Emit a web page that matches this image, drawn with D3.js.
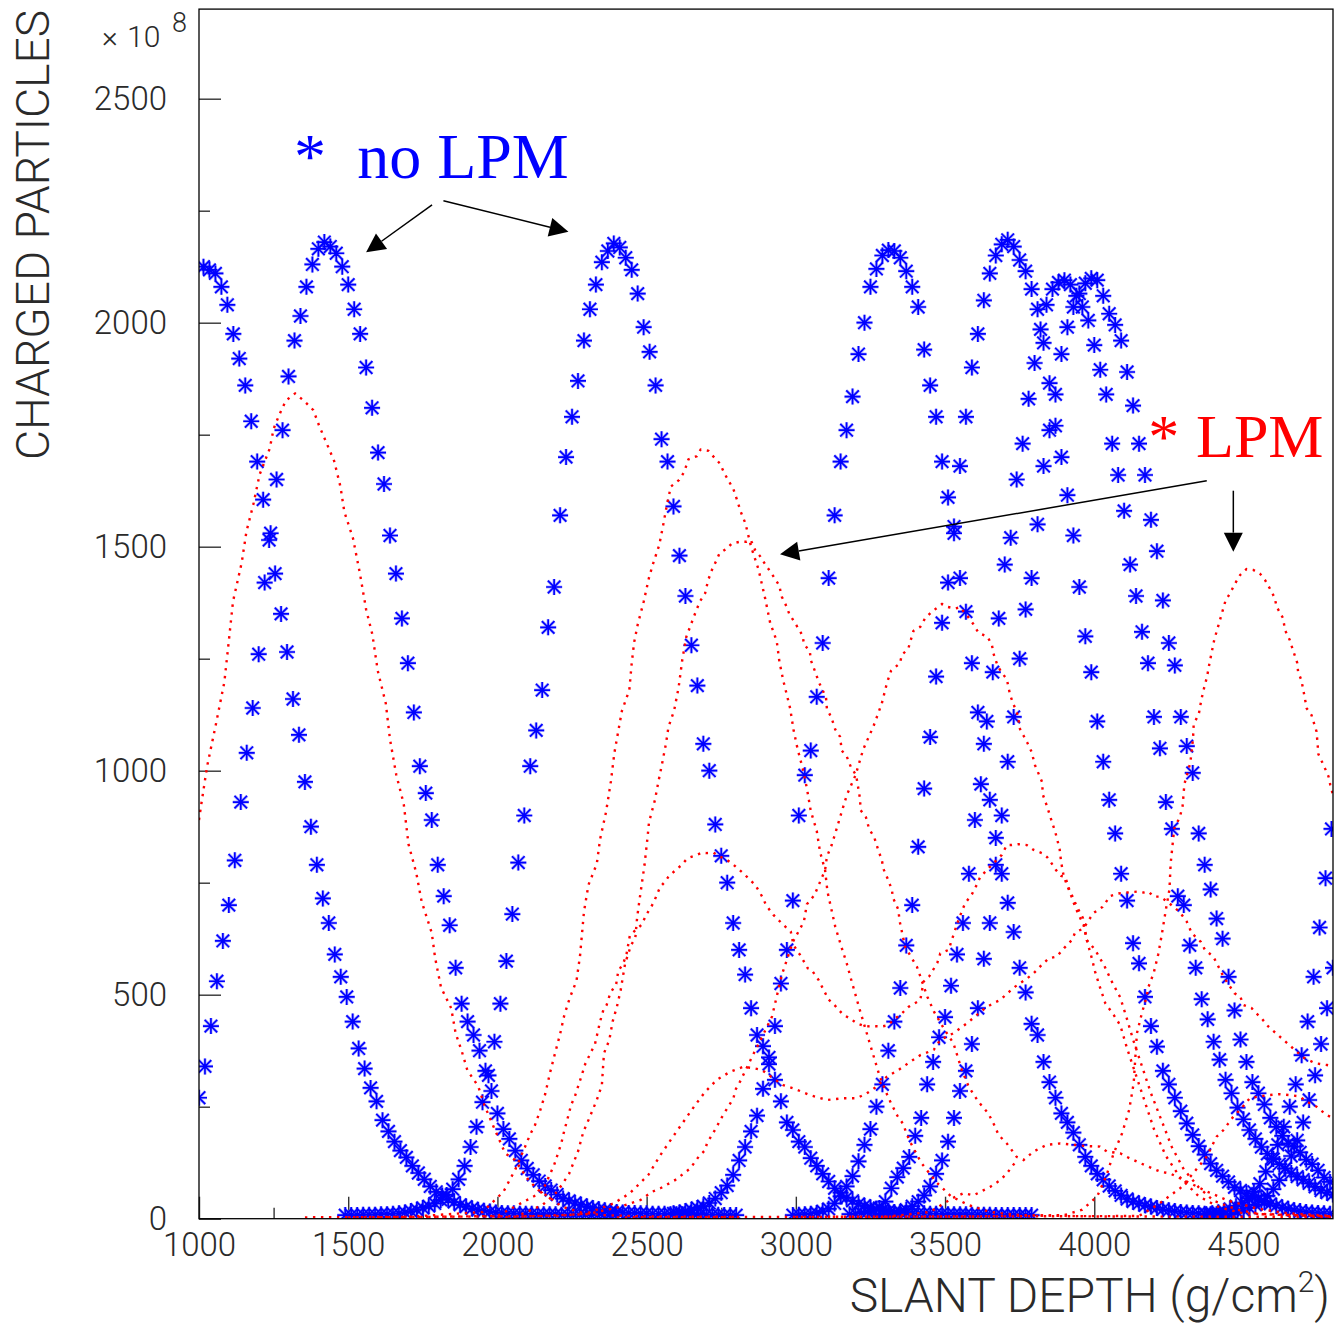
<!DOCTYPE html>
<html>
<head>
<meta charset="utf-8">
<script src="https://cdn.jsdelivr.net/npm/d3@7"></script>
<style>
  html, body { margin: 0; padding: 0; background: #fff; }
  svg { display: block; }
  .tick text { font-family: Roboto, "Open Sans", sans-serif; font-weight: 300; }
</style>
</head>
<body>
<svg id="chart" width="1337" height="1326"></svg>
<script>
// ---------------------------------------------------------------
// Longitudinal development of electromagnetic showers:
// number of charged particles (x 10^8) versus slant depth (g/cm^2),
// with and without the LPM effect.
// ---------------------------------------------------------------

// Profiles without LPM: sampled every STEP g/cm^2 from the given first depth.
const STEP = 20;
const noLpmStart = [1015, 1000, 1490, 2590, 2990, 3180, 3270, 4375, 4420];

const noLpm1 = [2125,2118,2110,2080,2040,1975,1920,1860,1780,1690,1605,1515,1440,1350,1265,1160,1080,975,875,790,
  715,660,590,540,495,440,380,335,292,262,220,195,172,152,137,118,102,88,72,60,
  52,43,37,31,27,23,20,18,16,14,13,12,12,11,11,11,10,10,10,10,9,9,9,9,9,8,8,8,8,8];

const noLpm2 = [270,340,430,530,620,700,800,930,1040,1140,1260,1420,1530,1650,1760,1880,1960,2015,2080,2130,
  2165,2180,2170,2155,2125,2085,2030,1975,1900,1810,1710,1640,1525,1440,1340,1240,1130,1010,950,890,
  790,720,655,560,480,440,410,375,330,285,235,200,178,152,130,112,98,84,73,64,
  54,45,40,35,31,27,24,21,19,17,15,14,13,13,12,12,11,11,11,10,10,10,10,9,9,9,9,9,8,8,8];

const noLpm3 = [8,8,8,9,9,9,10,10,11,12,14,17,20,24,28,34,42,53,66,88,
  118,160,205,260,320,395,480,575,680,795,900,1010,1090,1180,1320,1410,1570,1700,1790,1870,
  1960,2030,2085,2135,2160,2177,2168,2145,2118,2065,1990,1935,1860,1740,1690,1590,1480,1390,1280,1190,
  1060,1000,880,810,750,660,600,545,470,410,385,345,310,262,215,198,172,160,135,118,
  100,83,68,58,47,40,33,29,25,22,19,17,15,14,13,12,12,12,11,11,11,10,10,10,10,9,9,9,9,8,8,8,8,8,8,8];

const noLpm4 = [12,14,17,20,24,28,35,45,58,74,98,130,160,195,230,290,360,430,525,600,
  710,900,990,1045,1165,1285,1430,1570,1690,1760,1835,1930,2000,2080,2120,2150,2162,2160,2145,2115,
  2080,2035,1940,1860,1790,1690,1610,1545,1430,1355,1240,1130,1060,935,850,770,705,640,560,505,
  435,410,350,305,270,235,215,192,165,138,118,100,87,73,62,52,44,38,34,30,
  27,24,21,19,17,15,14,13,12,11,10,10];

const noLpm5 = [8,9,10,11,13,17,22,34,50,72,95,128,165,200,250,300,375,440,515,610,
  700,830,960,1075,1210,1330,1420,1530,1680,1790,1900,1975,2050,2110,2150,2175,2185,2170,2140,2115,
  2075,2030,1955,1865,1770,1700,1615,1525,1410,1300,1220,1110,1020,935,860,770,710,615,570,495,
  430,384,330,300,270,240,213,187,162,143,123,108,95,82,70,63,56,50,44,38,
  33,29,25,22,19,17,15,14,13,12,11];

const noLpm6 = [10,11,13,15,18,24,38,68,93,113,138,185,225,300,350,405,450,520,590,660,
  770,890,970,1110,1220,1340,1460,1520,1650,1730,1830,1910,1985,2040,2075,2090,2095,2085,2060,2035,
  2005,1950,1895,1840,1730,1660,1580,1460,1390,1310,1240,1120,1050,930,870,720,700,610,560,490,
  445,395,355,310,280,248,222,198,178,160,145,133,122,112,102,94,87,79,71,63,58,54];

const noLpm7 = [8,9,10,12,15,20,28,38,52,72,100,130,172,225,285,330,390,470,580,660,
  790,900,1020,1120,1250,1360,1430,1550,1680,1760,1840,1930,1990,2035,2065,2088,2099,2095,2060,2020,
  1995,1960,1890,1815,1730,1660,1560,1490,1380,1285,1235,1120,1055,995,860,790,735,670,625,540,
  465,400,350,305,280,255,225,205,185,168,161,148,132,122,108,92,82];

const noLpm8 = [10,12,14,17,22,28,36,46,60,78,105,135,165,205,250,300,365,440,540,650,760,870];

const noLpm9 = [8,10,12,15,19,24,31,40,51,66,86,112,140,175,215,265,320,390,470,560];

const noLpmValues = [noLpm1, noLpm2, noLpm3, noLpm4, noLpm5, noLpm6, noLpm7, noLpm8, noLpm9];

// Profiles with LPM: [slant depth, charged particles] read along each dotted profile.
const lpm1 = [[1000,890],[1007,922],[1027,1009],[1058,1108],[1085,1198],[1100,1290],[1114,1378],[1143,1464],[1159,1534],[1182,1594],
  [1203,1661],[1237,1719],[1250,1763],[1268,1793],[1291,1826],[1322,1842],[1353,1825],[1383,1805],[1402,1771],[1427,1732],
  [1453,1691],[1474,1634],[1487,1578],[1516,1519],[1539,1441],[1560,1360],[1581,1304],[1599,1223],[1626,1150],[1640,1070],
  [1661,991],[1686,926],[1702,836],[1728,772],[1746,708],[1780,638],[1791,583],[1811,516],[1845,470],[1860,414],
  [1880,375],[1899,332],[1936,295],[1956,254],[1986,207],[2026,146],[2059,131],[2104,86],[2137,64],[2171,49],
  [2216,27],[2280,14],[2350,8],[2500,5],[2800,4]];

const lpm2 = [[1355,3],[1700,4],[1950,15],[2020,60],[2060,110],[2093,161],[2109,187],[2126,209],[2143,241],[2160,278],
  [2176,325],[2193,369],[2210,412],[2224,454],[2242,492],[2265,531],[2277,588],[2290,685],[2305,745],[2333,792],
  [2344,847],[2364,908],[2380,975],[2392,1040],[2417,1133],[2442,1180],[2450,1240],[2458,1286],[2470,1326],[2490,1377],
  [2508,1431],[2521,1461],[2542,1503],[2554,1543],[2567,1590],[2581,1634],[2609,1649],[2626,1667],[2640,1695],[2668,1702],
  [2681,1717],[2707,1714],[2724,1701],[2745,1686],[2762,1662],[2791,1628],[2802,1606],[2816,1577],[2831,1552],[2850,1500],
  [2875,1449],[2897,1385],[2914,1330],[2936,1289],[2945,1243],[2958,1201],[2981,1139],[2992,1092],[3006,1048],[3023,1005],
  [3037,961],[3050,910],[3070,866],[3081,819],[3098,778],[3106,730],[3132,652],[3154,604],[3171,569],[3184,537],
  [3199,502],[3213,469],[3235,420],[3256,373],[3280,320],[3310,270],[3340,230],[3358,213],[3380,175],[3420,125],
  [3470,82],[3520,50],[3580,30],[3650,15],[3750,8],[4000,5],[4800,4]];

const lpm3 = [[2080,10],[2150,30],[2200,60],[2240,100],[2270,150],[2288,194],[2305,220],[2333,265],[2350,298],[2357,369],
  [2375,399],[2386,440],[2400,472],[2413,510],[2428,570],[2448,611],[2462,626],[2468,671],[2476,711],[2493,790],
  [2503,851],[2508,885],[2528,935],[2539,974],[2551,1013],[2565,1061],[2573,1097],[2592,1134],[2607,1185],[2620,1250],
  [2633,1299],[2663,1352],[2678,1377],[2696,1396],[2706,1425],[2721,1452],[2733,1468],[2744,1485],[2769,1496],[2785,1507],
  [2813,1511],[2835,1511],[2849,1515],[2864,1492],[2880,1479],[2897,1461],[2917,1442],[2944,1414],[2953,1388],[2964,1374],
  [2978,1350],[3008,1318],[3023,1301],[3027,1283],[3047,1266],[3050,1247],[3067,1217],[3076,1199],[3101,1164],[3104,1139],
  [3120,1117],[3132,1092],[3148,1076],[3154,1045],[3171,1031],[3184,1009],[3202,990],[3215,938],[3217,912],[3235,896],
  [3246,869],[3262,853],[3277,821],[3288,801],[3294,780],[3307,760],[3322,734],[3325,717],[3344,689],[3347,667],
  [3366,607],[3406,562],[3419,537],[3441,495],[3463,462],[3500,420],[3528,392],[3556,332],[3579,295],[3612,261],
  [3645,235],[3668,205],[3679,187],[3707,168],[3740,138],[3763,131],[3797,150],[3841,165],[3886,168],[3930,165],
  [3975,162],[4019,161],[4042,150],[4087,146],[4109,138],[4154,124],[4221,105],[4254,101],[4310,83],[4380,60],
  [4450,40],[4550,22],[4650,12],[4800,6]];

const lpm4 = [[1600,3],[2000,6],[2150,60],[2190,120],[2214,168],[2222,191],[2238,231],[2247,254],[2260,274],[2283,321],
  [2294,345],[2327,390],[2344,440],[2355,466],[2366,477],[2378,503],[2398,524],[2405,553],[2422,570],[2433,592],
  [2444,633],[2483,656],[2500,680],[2517,698],[2528,713],[2545,740],[2561,752],[2573,763],[2587,772],[2604,782],
  [2618,790],[2632,801],[2646,807],[2668,812],[2685,817],[2702,816],[2724,817],[2744,808],[2763,804],[2791,790],
  [2824,771],[2847,756],[2864,745],[2889,717],[2900,700],[2925,678],[2958,656],[2983,641],[2992,611],[3014,589],
  [3040,559],[3053,555],[3076,533],[3092,512],[3109,490],[3132,475],[3159,455],[3182,447],[3204,436],[3233,429],
  [3256,430],[3288,429],[3310,432],[3327,444],[3355,458],[3378,473],[3417,488],[3428,529],[3446,540],[3474,571],
  [3484,592],[3512,600],[3528,633],[3545,667],[3567,704],[3589,723],[3606,745],[3618,763],[3640,778],[3651,786],
  [3690,812],[3707,834],[3724,834],[3746,836],[3774,834],[3797,823],[3825,816],[3842,807],[3853,797],[3872,778],
  [3889,765],[3903,763],[3915,737],[3931,713],[3942,696],[3962,671],[3975,622],[4003,600],[4034,564],[4062,525],
  [4087,494],[4109,447],[4130,400],[4160,340],[4190,280],[4225,220],[4260,160],[4300,110],[4350,70],[4400,40],
  [4480,20],[4560,10],[4800,5]];

const lpm5 = [[1500,3],[2200,6],[2300,12],[2389,34],[2444,57],[2506,98],[2546,142],[2585,180],[2624,217],[2663,254],
  [2696,283],[2735,310],[2780,328],[2824,339],[2858,336],[2886,332],[2925,313],[2958,298],[2992,291],[3047,276],
  [3104,265],[3159,269],[3204,269],[3238,280],[3271,295],[3305,317],[3344,332],[3383,350],[3417,365],[3462,377],
  [3484,399],[3528,414],[3573,436],[3634,470],[3662,481],[3685,488],[3702,499],[3735,518],[3776,537],[3797,548],
  [3819,563],[3847,581],[3874,585],[3899,604],[3925,622],[3936,639],[3964,648],[3986,671],[3997,682],[4028,696],
  [4053,720],[4081,726],[4109,728],[4143,730],[4165,728],[4182,730],[4199,719],[4221,719],[4244,708],[4286,685],
  [4310,663],[4327,637],[4357,618],[4371,600],[4399,585],[4422,555],[4433,540],[4470,503],[4489,496],[4500,477],
  [4527,470],[4544,458],[4561,447],[4583,429],[4648,391],[4700,360],[4740,347],[4780,343],[4800,340]];

const lpm6 = [[2000,3],[2300,10],[2414,27],[2480,42],[2518,60],[2546,68],[2595,86],[2646,112],[2674,138],[2696,153],
  [2702,168],[2735,205],[2746,220],[2791,269],[2797,287],[2813,306],[2856,365],[2890,410],[2920,451],[2953,544],
  [2990,618],[3027,663],[3037,702],[3062,722],[3098,778],[3104,808],[3120,834],[3132,860],[3154,909],[3171,946],
  [3200,990],[3226,1048],[3260,1099],[3288,1150],[3305,1195],[3319,1223],[3349,1240],[3355,1258],[3377,1273],[3394,1312],
  [3417,1321],[3433,1340],[3456,1355],[3490,1372],[3506,1366],[3534,1362],[3551,1365],[3567,1351],[3573,1347],[3595,1327],
  [3612,1308],[3642,1299],[3657,1281],[3662,1262],[3676,1234],[3690,1219],[3707,1204],[3718,1169],[3729,1149],[3746,1120],
  [3748,1097],[3776,1062],[3790,1042],[3801,1013],[3825,975],[3828,946],[3842,920],[3858,886],[3869,864],[3884,825],
  [3889,796],[3898,763],[3911,741],[3926,715],[3936,696],[3953,671],[3964,656],[3975,622],[3992,581],[4003,551],
  [4015,525],[4026,503],[4037,481],[4065,455],[4087,432],[4110,380],[4140,320],[4170,260],[4200,200],[4240,140],
  [4290,90],[4350,50],[4420,25],[4500,12],[4800,5]];

const lpm7 = [[2400,3],[3600,5],[3900,8],[3960,20],[4010,50],[4040,95],[4065,146],[4093,190],[4117,243],[4132,302],
  [4143,414],[4160,460],[4174,492],[4182,518],[4199,548],[4214,589],[4226,633],[4240,690],[4252,735],[4256,793],
  [4268,871],[4287,897],[4296,921],[4302,970],[4322,1018],[4331,1072],[4333,1102],[4351,1129],[4359,1159],[4367,1182],
  [4378,1210],[4385,1236],[4402,1292],[4425,1345],[4440,1380],[4455,1396],[4472,1418],[4489,1437],[4510,1450],[4533,1448],
  [4555,1440],[4572,1426],[4594,1400],[4605,1385],[4611,1366],[4633,1340],[4639,1314],[4655,1292],[4664,1273],[4680,1241],
  [4683,1221],[4694,1202],[4700,1182],[4712,1139],[4728,1124],[4745,1087],[4751,1037],[4768,1013],[4785,987],[4791,968],
  [4800,946]];

const lpm8 = [[3000,4],[4150,6],[4210,30],[4288,68],[4331,101],[4376,138],[4410,183],[4433,198],[4466,228],[4493,246],
  [4521,269],[4553,273],[4586,276],[4620,278],[4655,276],[4688,273],[4712,261],[4745,250],[4779,231],[4800,225]];

const lpm9 = [[3300,4],[3450,15],[3522,45],[3562,57],[3595,52],[3651,71],[3685,86],[3707,101],[3740,130]];

const lpmProfiles = [lpm1, lpm2, lpm3, lpm4, lpm5, lpm6, lpm7, lpm8, lpm9];

// Axis ticks
const xMajorTicks = [1000, 1500, 2000, 2500, 3000, 3500, 4000, 4500];
const xMinorTicks = [1250, 1750, 2250, 2750, 3250, 3750, 4250, 4750];
const yMajorTicks = [0, 500, 1000, 1500, 2000, 2500];
const yMinorTicks = [250, 750, 1250, 1750, 2250];

// Annotation arrows, in data coordinates: [fromDepth, fromValue, toDepth, toValue]
const noLpmArrows = [[1781, 2263, 1560, 2157], [1819, 2272, 2238, 2203]];
const lpmArrows = [[4377, 1647, 2947, 1483], [4466, 1625, 4466, 1489]];

// ---------------------------------------------------------------
const svg = d3.select("#chart");
const frame = { left: 199, right: 1333, top: 9.1, bottom: 1218.7 };

const x = d3.scaleLinear().domain([1000, 4800]).range([frame.left, frame.right]);
const y = d3.scaleLinear().domain([0, 2700]).range([frame.bottom, frame.top]);

svg.append("rect").attr("width", 1337).attr("height", 1326).attr("fill", "#fff");

const defs = svg.append("defs");
defs.append("clipPath").attr("id", "plotClip")
  .append("rect")
  .attr("x", frame.left).attr("y", frame.top)
  .attr("width", frame.right - frame.left).attr("height", frame.bottom - frame.top);

// Axes (ticks point inwards)
const tickFont = 33;
const yAxisMajor = d3.axisLeft(y).tickValues(yMajorTicks).tickSizeInner(-22).tickSizeOuter(0)
  .tickPadding(32).tickFormat(d3.format("d"));
const yAxisMinor = d3.axisLeft(y).tickValues(yMinorTicks).tickSizeInner(-11).tickSizeOuter(0).tickFormat("");
const xAxisMajor = d3.axisBottom(x).tickValues(xMajorTicks).tickSizeInner(-22).tickSizeOuter(0)
  .tickPadding(14).tickFormat(d3.format("d"));
const xAxisMinor = d3.axisBottom(x).tickValues(xMinorTicks).tickSizeInner(-11).tickSizeOuter(0).tickFormat("");

function styleAxis(g) {
  g.select(".domain").remove();
  g.selectAll(".tick line").attr("stroke", "#333").attr("stroke-width", 1.4);
  g.selectAll(".tick text").attr("font-size", tickFont).attr("fill", "#2a2a2a");
}
svg.append("g").attr("transform", `translate(${frame.left},0)`).call(yAxisMajor).call(styleAxis);
svg.append("g").attr("transform", `translate(${frame.left},0)`).call(yAxisMinor).call(styleAxis);
svg.append("g").attr("transform", `translate(0,${frame.bottom})`).call(xAxisMajor).call(styleAxis);
svg.append("g").attr("transform", `translate(0,${frame.bottom})`).call(xAxisMinor).call(styleAxis);

// Profiles
const plotArea = svg.append("g").attr("clip-path", "url(#plotClip)");

const starPath = "M-8,0H8M0,-8V8M-6.3,-6.3L6.3,6.3M-6.3,6.3L6.3,-6.3";
const starPoints = noLpmValues.flatMap((vals, i) =>
  vals.map((v, k) => [noLpmStart[i] + k * STEP, v]));

// soft halo under each asterisk, then the asterisk itself
plotArea.append("g")
  .attr("fill", "none").attr("stroke", "#6f6fff").attr("stroke-width", 3.2).attr("stroke-opacity", 0.5)
  .selectAll("path")
  .data(starPoints)
  .join("path")
  .attr("transform", d => `translate(${x(d[0])},${y(d[1])})`)
  .attr("d", starPath);
plotArea.append("g")
  .attr("fill", "none").attr("stroke", "#0000ff").attr("stroke-width", 1.7)
  .selectAll("path")
  .data(starPoints)
  .join("path")
  .attr("transform", d => `translate(${x(d[0])},${y(d[1])})`)
  .attr("d", starPath);

const line = d3.line().x(d => x(d[0])).y(d => y(d[1]));
plotArea.append("g")
  .selectAll("path")
  .data(lpmProfiles)
  .join("path")
  .attr("d", line)
  .attr("fill", "none")
  .attr("stroke", "#ff0000")
  .attr("stroke-width", 2.4)
  .attr("stroke-dasharray", "2.4 5.6");

// Frame
svg.append("rect")
  .attr("x", frame.left).attr("y", frame.top)
  .attr("width", frame.right - frame.left).attr("height", frame.bottom - frame.top)
  .attr("fill", "none").attr("stroke", "#000").attr("stroke-width", 1.3);

// Axis titles
const titleFont = 'Roboto, "Open Sans", sans-serif';
svg.append("text")
  .attr("transform", "translate(49,10) rotate(-90)")
  .attr("text-anchor", "end")
  .attr("font-family", titleFont).attr("font-weight", 300)
  .attr("font-size", 47).attr("fill", "#2a2a2a")
  .attr("textLength", 450).attr("lengthAdjust", "spacingAndGlyphs")
  .text("CHARGED PARTICLES");

const xTitle = svg.append("text")
  .attr("x", 1330).attr("y", 1312)
  .attr("text-anchor", "end")
  .attr("font-family", titleFont).attr("font-weight", 300)
  .attr("font-size", 48).attr("fill", "#2a2a2a");
xTitle.append("tspan").text("SLANT DEPTH (g/cm");
xTitle.append("tspan").attr("dy", -20).attr("font-size", 30).text("2");
xTitle.append("tspan").attr("dy", 20).text(")");

// Exponent of the vertical axis
const expo = svg.append("text")
  .attr("y", 47)
  .attr("font-family", titleFont).attr("font-weight", 300)
  .attr("font-size", 30).attr("fill", "#2a2a2a");
expo.append("tspan").attr("x", 102).text("\u00d7");
expo.append("tspan").attr("x", 127).text("10");
expo.append("tspan").attr("x", 172).attr("dy", -15).attr("font-size", 27).text("8");

// Annotations
const serif = '"Liberation Serif", "Times New Roman", serif';
svg.append("text").attr("x", x(1318)).attr("y", y(2323))
  .attr("font-family", serif).attr("font-size", 64).attr("fill", "#0000ff").text("*");
svg.append("text").attr("x", x(1530)).attr("y", y(2323))
  .attr("font-family", serif).attr("font-size", 64).attr("fill", "#0000ff").text("no LPM");
svg.append("text").attr("x", x(4181)).attr("y", y(1700))
  .attr("font-family", serif).attr("font-size", 62).attr("fill", "#ff0000").text("*");
svg.append("text").attr("x", x(4341)).attr("y", y(1700))
  .attr("font-family", serif).attr("font-size", 62).attr("fill", "#ff0000").text("LPM");

function drawArrow(a) {
  const x0 = x(a[0]), y0 = y(a[1]), x1 = x(a[2]), y1 = y(a[3]);
  const len = Math.hypot(x1 - x0, y1 - y0);
  const ux = (x1 - x0) / len, uy = (y1 - y0) / len;
  const headL = 19, headW = 9.5;
  const bx = x1 - ux * headL, by = y1 - uy * headL;
  svg.append("line")
    .attr("x1", x0).attr("y1", y0).attr("x2", bx).attr("y2", by)
    .attr("stroke", "#000").attr("stroke-width", 1.5);
  svg.append("path")
    .attr("d", `M${x1},${y1}L${bx - uy * headW},${by + ux * headW}L${bx + uy * headW},${by - ux * headW}Z`)
    .attr("fill", "#000");
}
noLpmArrows.forEach(drawArrow);
lpmArrows.forEach(drawArrow);
</script>
</body>
</html>
